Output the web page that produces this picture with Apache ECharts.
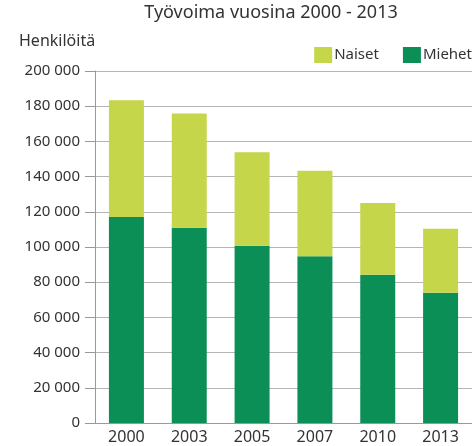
<!DOCTYPE html>
<html>
<head>
<meta charset="utf-8">
<script src="https://cdn.jsdelivr.net/npm/echarts@6/dist/echarts.min.js"></script>
<style>
    html, body { margin: 0; padding: 0; background: #fff; }
    #main { width: 472px; height: 446px; }
</style>
</head>
<body>
<div id="main"></div>
<script>
// 年份
var years = ['2000', '2003', '2005', '2007', '2010', '2013'];
// 男性 (Miehet)
var miehet = [117000, 111000, 100700, 94800, 84200, 74000];
// 女性 (Naiset)
var naiset = [66400, 64800, 53200, 48500, 40800, 36300];

var chartFont = 'Noto Sans';

var myChart = echarts.init(document.getElementById('main'));
var option = {
    animation: false,
    textStyle: { fontFamily: chartFont },
    title: [
        {
            text: 'Työvoima vuosina 2000 - 2013',
            left: 271,
            textAlign: 'center',
            top: 4,
            padding: 0,
            textStyle: { fontSize: 18, fontWeight: 'normal', color: '#333', fontFamily: chartFont }
        },
        {
            text: 'Henkilöitä',
            left: 19,
            top: 33,
            padding: 0,
            textStyle: { fontSize: 16, fontWeight: 'normal', color: '#333', fontFamily: chartFont }
        }
    ],
    legend: {
        data: ['Naiset', 'Miehet'],
        icon: 'rect',
        right: 0,
        top: 47,
        itemWidth: 18,
        itemHeight: 16,
        itemGap: 24,
        padding: 0,
        textStyle: { fontSize: 15, color: '#333', padding: [0, 0, 0, -3] }
    },
    grid: {
        left: 95,
        top: 71,
        width: 380,
        height: 352
    },
    xAxis: {
        type: 'category',
        data: years,
        axisLine: { lineStyle: { color: '#999' } },
        axisTick: { show: false },
        axisLabel: { fontSize: 16, color: '#333', margin: 6 }
    },
    yAxis: {
        type: 'value',
        min: 0,
        max: 200000,
        interval: 20000,
        axisLine: { show: true, lineStyle: { color: '#999' } },
        axisTick: { show: true, length: 10, lineStyle: { color: '#999' } },
        splitLine: { lineStyle: { color: '#b5b5b5' } },
        axisLabel: {
            fontSize: 15,
            color: '#333',
            margin: 15,
            formatter: function (v) {
                return String(v).replace(/\B(?=(\d{3})+(?!\d))/g, ' ');
            }
        }
    },
    series: [
        {
            name: 'Miehet',
            type: 'bar',
            stack: 'all',
            barWidth: 35,
            itemStyle: { color: '#0c8f57' },
            data: miehet
        },
        {
            name: 'Naiset',
            type: 'bar',
            stack: 'all',
            barWidth: 35,
            itemStyle: { color: '#c6d64a' },
            data: naiset
        }
    ]
};
myChart.setOption(option, true);
</script>
</body>
</html>
